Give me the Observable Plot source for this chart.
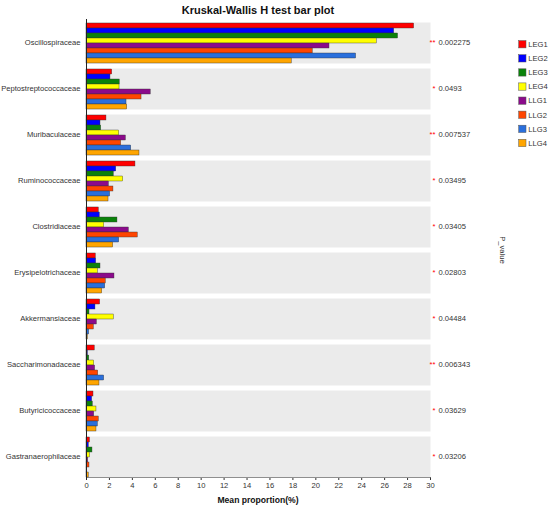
<!DOCTYPE html>
<html><head><meta charset="utf-8">
<script src="https://cdn.jsdelivr.net/npm/d3@7"></script>
<script src="https://cdn.jsdelivr.net/npm/@observablehq/plot@0.6"></script>
<style>
html,body{margin:0;padding:0;background:#fff;overflow:hidden;}
#wrap{position:relative;width:550px;height:508px;overflow:hidden;}
#wrap svg{display:block;max-width:none;}
</style></head><body><div id="wrap"></div>
<script>
const categories = ["Oscillospiraceae","Peptostreptococcaceae","Muribaculaceae","Ruminococcaceae","Clostridiaceae","Erysipelotrichaceae","Akkermansiaceae","Saccharimonadaceae","Butyricicoccaceae","Gastranaerophilaceae"];
const groups = ["LEG1","LEG2","LEG3","LEG4","LLG1","LLG2","LLG3","LLG4"];
const colors = ["#ff0000","#0000ff","#0a820a","#ffff00","#8b0a8b","#ff4500","#2a6fdc","#ffa500"];
const LEG1 = [28.57,2.24,1.74,4.27,1.07,0.81,1.19,0.72,0.61,0.30];
const LEG2 = [26.83,2.09,1.22,2.59,1.16,0.84,0.78,0.12,0.49,0.20];
const LEG3 = [27.17,2.90,1.28,2.38,2.70,1.22,0.26,0.24,0.55,0.52];
const LEG4 = [25.31,2.88,2.85,3.20,1.54,0.99,2.38,0.67,0.87,0.30];
const LLG1 = [21.19,5.60,3.43,1.95,3.69,2.44,0.90,0.75,0.67,0.15];
const LLG2 = [19.73,4.80,3.02,2.35,4.47,1.68,0.64,1.02,1.07,0.26];
const LLG3 = [23.51,3.49,3.90,2.06,2.85,1.63,0.23,1.54,0.99,0.05];
const LLG4 = [17.90,3.55,4.62,1.92,2.33,1.37,0.12,1.13,0.87,0.20];
const pValues = ["0.002275","0.0493","0.007537","0.03495","0.03405","0.02803","0.04484","0.006343","0.03629","0.03206"];
const stars = ["**","*","**","*","*","*","*","**","*","*"];
const xTicks = [0,2,4,6,8,10,12,14,16,18,20,22,24,26,28,30];

const series = [LEG1,LEG2,LEG3,LEG4,LLG1,LLG2,LLG3,LLG4];
const data = [];
categories.forEach((c,i)=>groups.forEach((g,j)=>data.push({category:c, group:g, value:series[j][i]})));
const pdata = categories.map((c,i)=>({category:c, p:pValues[i], star:stars[i]}));
const font = "'Liberation Sans', Arial, sans-serif";

const chart = Plot.plot({
  width:550, height:508,
  marginLeft:86, marginRight:120, marginTop:19, marginBottom:27,
  style:{fontFamily:font, fontSize:"7.6px", color:"#333", background:"#fff", overflow:"visible"},
  x:{domain:[0,30], ticks:xTicks, tickSize:3, line:true, label:null, tickFormat:d=>String(d), tickPadding:2},
  y:{domain:groups, axis:null, padding:0},
  fy:{domain:categories, label:null, tickSize:0, tickPadding:6, paddingInner:0.103, paddingOuter:0.065},
  color:{domain:groups, range:colors},
  marks:[
    Plot.frame({fill:"#ebebeb", stroke:null}),
    Plot.barX(data,{fy:"category", y:"group", x:"value", fill:"group", stroke:"#333", strokeWidth:0.4}),
    Plot.ruleX([0],{stroke:"#222", strokeWidth:1, insetTop:-3, insetBottom:-3}),
    Plot.text(pdata,{fy:"category", x:30, text:"star", fill:"#ff0000", textAnchor:"end", dx:5, frameAnchor:"middle"}),
    Plot.text(pdata,{fy:"category", x:30, text:"p", fill:"#333", textAnchor:"start", dx:8, frameAnchor:"middle"})
  ]
});
document.getElementById("wrap").appendChild(chart);
const svg = d3.select(chart);
svg.append("text").attr("x",258).attr("y",13.5).attr("text-anchor","middle")
  .attr("font-family",font).attr("font-size","11px").attr("font-weight","bold").attr("fill","#111")
  .text("Kruskal-Wallis H test bar plot");
svg.append("text").attr("x",258).attr("y",503).attr("text-anchor","middle")
  .attr("font-family",font).attr("font-size","8.6px").attr("font-weight","bold").attr("fill","#111")
  .text("Mean proportion(%)");
svg.append("text").attr("transform","translate(499.5,250) rotate(90)").attr("text-anchor","middle")
  .attr("font-family",font).attr("font-size","7.6px").attr("fill","#333").text("P_value");
const lg = svg.append("g");
groups.forEach((g,i)=>{
  const cy = 44.3 + 14.1*i;
  lg.append("rect").attr("x",518.7).attr("y",cy-3.7).attr("width",7.3).attr("height",7.3)
    .attr("fill",colors[i]).attr("stroke","#555").attr("stroke-width",0.5);
  lg.append("text").attr("x",528.3).attr("y",cy+2.7).attr("text-anchor","start")
    .attr("font-family",font).attr("font-size","7.6px").attr("fill","#333").text(g);
});
</script></body></html>
